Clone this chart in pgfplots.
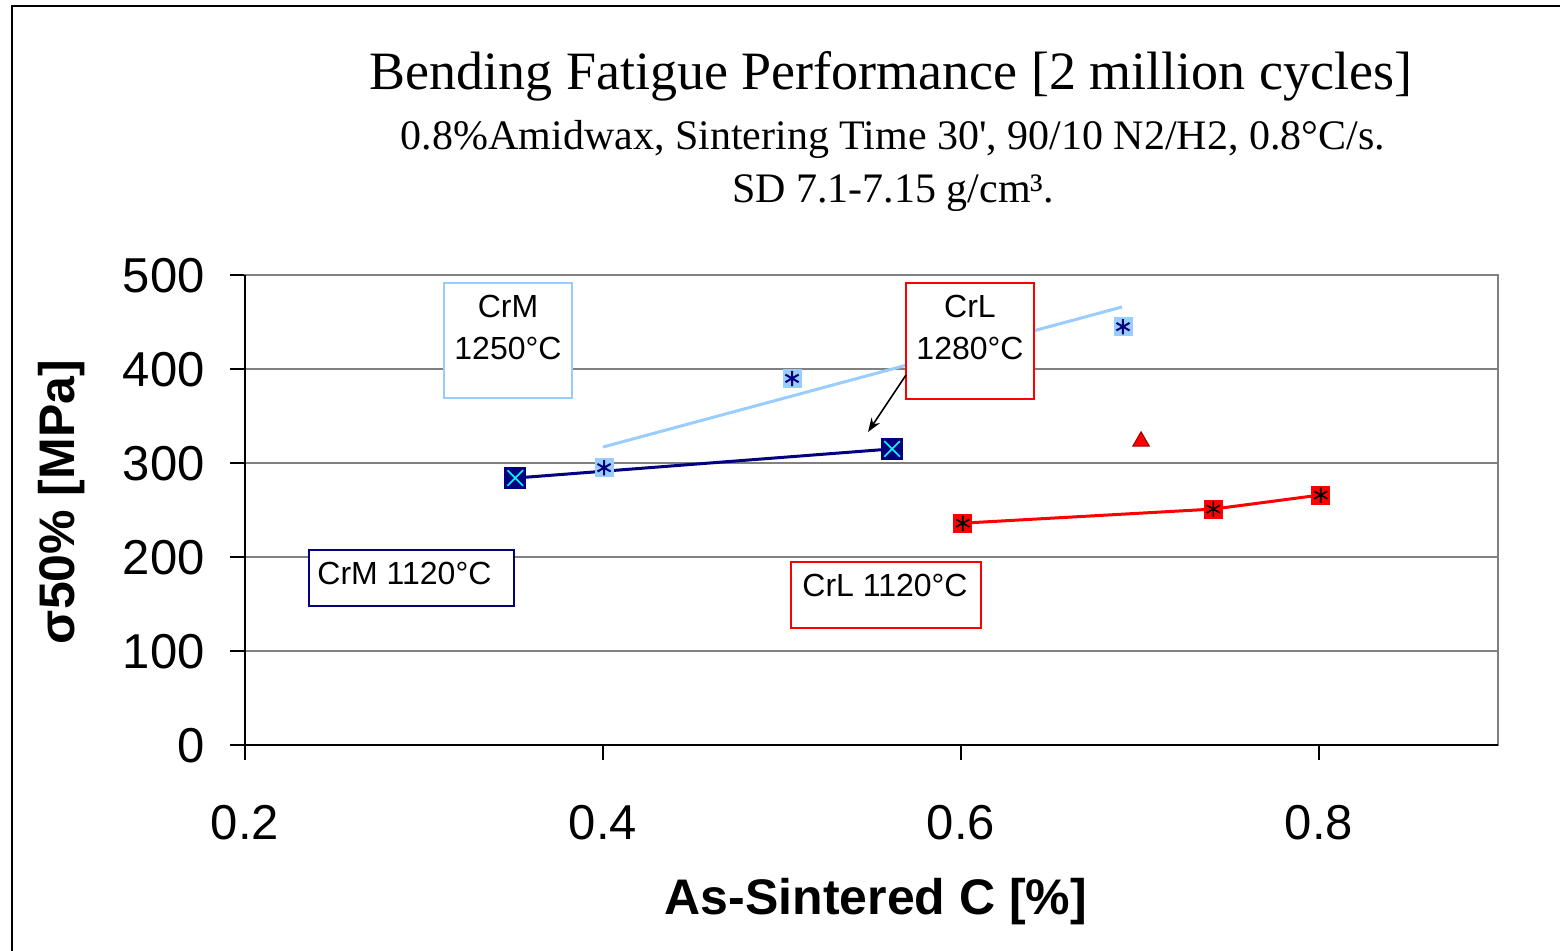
\documentclass[border=0pt]{standalone}
\usepackage{fontspec}
\setmainfont{Liberation Sans}
\newfontfamily\seriffont{Liberation Serif}
\usepackage{pgfplots}
\pgfplotsset{compat=1.18}
\usetikzlibrary{arrows.meta}
\definecolor{navy}{RGB}{0,0,128}
\definecolor{lblue}{RGB}{153,204,255}
\definecolor{xred}{RGB}{255,0,0}
\definecolor{cyanx}{RGB}{0,255,255}
\definecolor{gridgray}{RGB}{128,128,128}
\begin{document}
\begin{tikzpicture}
\path[use as bounding box] (0pt,0pt) rectangle (780pt,-475.5pt);
\begin{axis}[
 at={(122.5pt,-372.5pt)}, anchor=south west,
 scale only axis, width=626.5pt, height=235pt,
 xmin=0.2, xmax=0.9, ymin=0, ymax=500,
 xtick={0.2,0.4,0.6,0.8}, ytick={0,100,200,300,400,500},
 ymajorgrids, grid style={gridgray, line width=1pt},
 axis line style={gridgray, line width=1pt},
 tick style={black, line width=1pt},
 major tick length=7.5pt, tick align=outside,
 xtick pos=bottom, ytick pos=left,
 ticklabel style={font=\fontsize{24.5}{24.5}\selectfont, inner sep=0pt},
 /pgf/number format/assume math mode=true,
 xticklabel style={anchor=base, yshift=-40pt},
 yticklabel style={anchor=base east, xshift=-12.5pt, yshift=-8.75pt},
 xticklabel={\pgfmathprintnumber[fixed,precision=1]{\tick}},
 clip=false,
]
\draw[black, line width=1pt] (rel axis cs:0,1) -- (rel axis cs:0,0) -- (rel axis cs:1,0);
% CrM 1250 trend
\addplot[lblue, line width=1.5pt] coordinates {(0.4,317) (0.69,466)};
% CrM 1250 points
\addplot[only marks, mark=square*, mark size=4.5pt, mark options={fill=lblue, draw=lblue}] coordinates {(0.4006,295) (0.5056,390) (0.6905,445)};
\addplot[only marks, mark=asterisk, mark size=3.8pt, mark options={navy, line width=1pt}] coordinates {(0.4006,295) (0.5056,390) (0.6905,445)};
% CrM 1120
\addplot[navy, line width=1.5pt] coordinates {(0.351,284) (0.5615,315)};
\addplot[only marks, mark=square*, mark size=5.2pt, mark options={fill=navy, draw=navy}] coordinates {(0.351,284) (0.5615,315)};
\addplot[only marks, mark=x, mark size=5.5pt, mark options={cyanx, line width=0.8pt}] coordinates {(0.351,284) (0.5615,315)};
% CrL 1120
\addplot[xred, line width=1.5pt] coordinates {(0.601,236) (0.741,251) (0.801,266)};
\addplot[only marks, mark=square*, mark size=4.5pt, mark options={fill=xred, draw=xred}] coordinates {(0.601,236) (0.741,251) (0.801,266)};
\addplot[only marks, mark=asterisk, mark size=3.8pt, mark options={black, line width=0.8pt}] coordinates {(0.601,236) (0.741,251) (0.801,266)};
% CrL 1280
\addplot[only marks, mark=triangle*, mark size=4.8pt, mark options={fill=xred, draw=xred!60!black, line width=0.5pt}] coordinates {(0.7006,323)};
\end{axis}
\begin{scope}[x=0.5pt,y=-0.5pt]
\draw[black, line width=0.7pt] (12,951) -- (12,6) -- (1560,6);
\node[anchor=base, font=\seriffont\fontsize{27}{27}\selectfont, inner sep=0pt] at (891,90) {Bending Fatigue Performance [2 million cycles]};
\node[anchor=base, font=\seriffont\fontsize{21}{21}\selectfont, inner sep=0pt] at (893,150) {0.8\%Amidwax, Sintering Time 30', 90/10 N2/H2, 0.8°C/s.};
\node[anchor=base, font=\seriffont\fontsize{21}{21}\selectfont, inner sep=0pt] at (893,203) {SD 7.1-7.15 g/cm³.};
\node[anchor=base, font=\bfseries\fontsize{25}{25}\selectfont, inner sep=0pt] at (876,915) {As-Sintered C [\%]};
\node[anchor=base, rotate=90, font=\bfseries\fontsize{25}{25}\selectfont, inner sep=0pt] at (75,502) {σ50\% [MPa]};
% text boxes
\draw[lblue, line width=1pt, fill=white] (444,283) rectangle (572,398);
\node[anchor=base, font=\fontsize{16}{16}\selectfont, inner sep=0pt] at (508,318) {CrM};
\node[anchor=base, font=\fontsize{16}{16}\selectfont, inner sep=0pt] at (508,360) {1250°C};
\draw[xred, line width=1pt, fill=white] (906,283) rectangle (1034,399);
\node[anchor=base, font=\fontsize{16}{16}\selectfont, inner sep=0pt] at (970,318) {CrL};
\node[anchor=base, font=\fontsize{16}{16}\selectfont, inner sep=0pt] at (970,360) {1280°C};
\draw[navy, line width=1pt, fill=white] (309,550) rectangle (514,606);
\node[anchor=base west, font=\fontsize{16}{16}\selectfont, inner sep=0pt] at (317,585) {CrM 1120°C};
\draw[xred, line width=1pt, fill=white] (791,562) rectangle (981,628);
\node[anchor=base west, font=\fontsize{16}{16}\selectfont, inner sep=0pt] at (802,597) {CrL 1120°C};
\draw[-{Stealth[length=7pt,width=5pt]}, black, line width=0.8pt] (906,375) -- (868,432);
\end{scope}
\end{tikzpicture}
\end{document}
